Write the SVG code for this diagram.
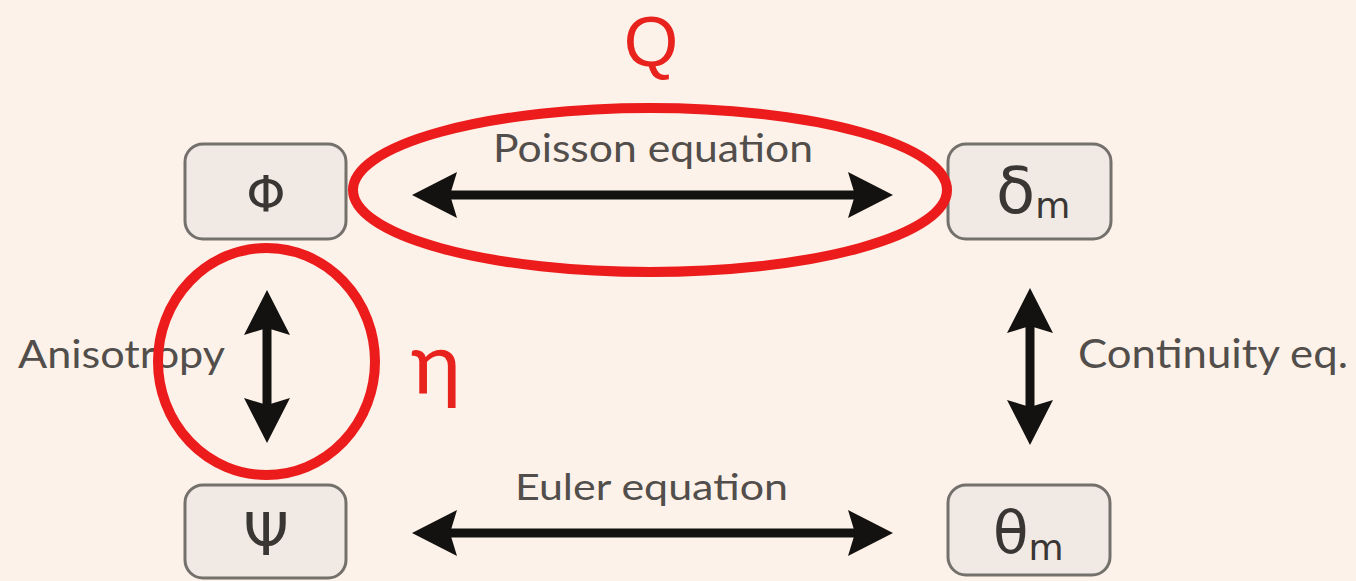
<svg xmlns="http://www.w3.org/2000/svg" width="1356" height="581" viewBox="0 0 1356 581">
  <style>
    .node rect { fill: #f1e9e3; stroke: #74706b; stroke-width: 3; }
    .sym { font-family: "DejaVu Sans", "Liberation Sans", sans-serif; fill: #3a3633; }
    .lbl { font-family: Lato, "Liberation Sans", sans-serif; fill: #524e4b; }
    .red { font-family: Lato, "Liberation Sans", sans-serif; fill: #e8221d; }
    .q { font-family: "Liberation Sans", sans-serif; fill: #e8221d; }
    .arr { stroke: #141210; stroke-width: 9; fill: none; }
    .hl { fill: none; stroke: #ec1c1c; stroke-width: 10; }
  </style>
  <defs>
    <marker id="head" viewBox="0 0 46 46" markerUnits="userSpaceOnUse" markerWidth="46" markerHeight="46" refX="10" refY="23" orient="auto-start-reverse">
      <path d="M45 23 L0 0 L7 23 L0 46 Z" fill="#141210"/>
    </marker>
  </defs>
  <rect x="0" y="0" width="1356" height="581" fill="#fcf2e9"/>

  <g id="connectors">
    <line class="arr" x1="447" y1="195" x2="858" y2="195" marker-start="url(#head)" marker-end="url(#head)"/>
    <line class="arr" x1="447" y1="533" x2="858" y2="533" marker-start="url(#head)" marker-end="url(#head)"/>
    <line class="arr" x1="267" y1="325" x2="267" y2="408" marker-start="url(#head)" marker-end="url(#head)"/>
    <line class="arr" x1="1030" y1="323" x2="1030" y2="410" marker-start="url(#head)" marker-end="url(#head)"/>
    <text class="lbl" x="493" y="162" font-size="38" textLength="320" lengthAdjust="spacingAndGlyphs">Poisson equation</text>
    <text class="lbl" x="515" y="500" font-size="37" textLength="273" lengthAdjust="spacingAndGlyphs">Euler equation</text>
    <text class="lbl" x="18" y="368" font-size="38" textLength="207" lengthAdjust="spacingAndGlyphs">Anisotropy</text>
    <text class="lbl" x="1078" y="368" font-size="40" textLength="270" lengthAdjust="spacingAndGlyphs">Continuity eq.</text>
  </g>

  <g id="node-phi" class="node">
    <rect x="185" y="144" width="161" height="95" rx="18"/>
    <text class="sym" x="266" y="211" font-size="50" text-anchor="middle">Φ</text>
  </g>
  <g id="node-delta" class="node">
    <rect x="948" y="144" width="163" height="95" rx="18"/>
    <text class="sym" x="996" y="213" font-size="64">δ<tspan font-size="36" dy="5">m</tspan></text>
  </g>
  <g id="node-psi" class="node">
    <rect x="185" y="485" width="161" height="93" rx="18"/>
    <text class="sym" x="266" y="555" font-size="58" text-anchor="middle">Ψ</text>
  </g>
  <g id="node-theta" class="node">
    <rect x="948" y="485" width="162" height="90" rx="18"/>
    <text class="sym" x="993" y="553" font-size="58">θ<tspan font-size="36" dy="7">m</tspan></text>
  </g>

  <g id="annotations">
    <ellipse class="hl" cx="650" cy="190" rx="297" ry="82"/>
    <ellipse class="hl" cx="266.5" cy="361.5" rx="108.5" ry="113.5"/>
    <text class="q" x="651" y="66" font-size="70" text-anchor="middle">Q</text>
    <text class="red" x="436" y="393" font-size="86" text-anchor="middle">η</text>
  </g>
</svg>
